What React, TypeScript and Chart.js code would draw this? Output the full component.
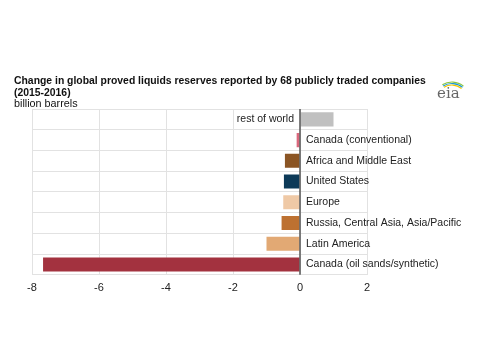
import React, { useEffect, useRef } from "react";
import { Chart, registerables } from "chart.js";

Chart.register(...registerables);

const categories = [
  "rest of world",
  "Canada (conventional)",
  "Africa and Middle East",
  "United States",
  "Europe",
  "Russia, Central Asia, Asia/Pacific",
  "Latin America",
  "Canada (oil sands/synthetic)",
];
const values = [1.0, -0.1, -0.45, -0.48, -0.5, -0.55, -1.0, -7.67];
const barColors = [
  "#c0c0c0",
  "#d9687c",
  "#8b5524",
  "#0d3a58",
  "#efc9a6",
  "#bd7131",
  "#e2a974",
  "#a3323f",
];
const xTicks = [-8, -6, -4, -2, 0, 2];
const titleLines = [
  "Change in global proved liquids reserves reported by 68 publicly traded companies",
  "(2015-2016)",
];
const unitLabel = "billion barrels";

const FONT = "'Liberation Sans', Arial, sans-serif";

const decorPlugin = {
  id: "decor",
  afterDatasetsDraw(chart: any) {
    const ctx = chart.ctx;
    const meta = chart.getDatasetMeta(0);
    const xs = chart.scales.x;
    const zero = xs.getPixelForValue(0);
    ctx.save();
    ctx.font = `10.5px ${FONT}`;
    ctx.fillStyle = "#222";
    ctx.textBaseline = "middle";
    meta.data.forEach((bar: any, i: number) => {
      const v = values[i];
      if (v >= 0) {
        ctx.textAlign = "right";
        ctx.fillText(categories[i], zero - 6, bar.y);
      } else {
        ctx.textAlign = "left";
        ctx.fillText(categories[i], zero + 6, bar.y);
      }
    });
    // zero line
    ctx.strokeStyle = "#555";
    ctx.lineWidth = 1.5;
    ctx.beginPath();
    ctx.moveTo(zero, chart.chartArea.top);
    ctx.lineTo(zero, chart.chartArea.bottom);
    ctx.stroke();

    // titles
    ctx.textAlign = "left";
    ctx.textBaseline = "alphabetic";
    ctx.fillStyle = "#111";
    ctx.font = `bold 10.4px ${FONT}`;
    ctx.fillText(titleLines[0], 14, 84);
    ctx.fillText(titleLines[1], 14, 95.5);
    ctx.font = `10.8px ${FONT}`;
    ctx.fillText(unitLabel, 14, 106.5);

    // eia logo
    ctx.font = `15px 'DejaVu Serif', serif`;
    ctx.fillStyle = "#666";
    ctx.fillText("eia", 437, 98);
    const arcs = [
      { c: "#8dc63f", r: 18 },
      { c: "#1b9ad6", r: 16.5 },
      { c: "#f2c500", r: 15 },
    ];
    ctx.lineWidth = 1.2;
    arcs.forEach((a) => {
      ctx.strokeStyle = a.c;
      ctx.beginPath();
      ctx.arc(452, 100, a.r, Math.PI * 1.32, Math.PI * 1.72);
      ctx.stroke();
    });
    ctx.restore();
  },
};

export default function App() {
  const ref = useRef<HTMLCanvasElement>(null);
  useEffect(() => {
    if (!ref.current) return;
    const chart = new Chart(ref.current, {
      type: "bar",
      data: {
        labels: categories,
        datasets: [
          {
            data: values,
            backgroundColor: barColors,
            borderWidth: 0,
            barPercentage: 0.68,
            categoryPercentage: 1,
          },
        ],
      },
      options: {
        indexAxis: "y",
        animation: false,
        responsive: false,
        layout: { padding: { left: 32, right: 113, top: 109, bottom: 58 } },
        plugins: { legend: { display: false }, tooltip: { enabled: false } },
        scales: {
          x: {
            min: -8,
            max: 2,
            afterBuildTicks: (axis: any) => {
              axis.ticks = xTicks.map((v) => ({ value: v }));
            },
            grid: { color: "#e2e2e2", drawTicks: false, lineWidth: 1 },
            border: { display: false },
            ticks: {
              color: "#222",
              font: { family: FONT, size: 11 },
              padding: 7,
            },
          },
          y: {
            grid: { color: "#e2e2e2", offset: true, drawTicks: false },
            border: { display: false },
            ticks: { display: false },
          },
        },
      },
      plugins: [decorPlugin],
    });
    return () => chart.destroy();
  }, []);
  return (
    <div style={{ position: "fixed", left: 0, top: 0, width: 480, height: 360, background: "#fff" }}>
      <canvas ref={ref} width={480} height={360} style={{ width: 480, height: 360 }} />
    </div>
  );
}
